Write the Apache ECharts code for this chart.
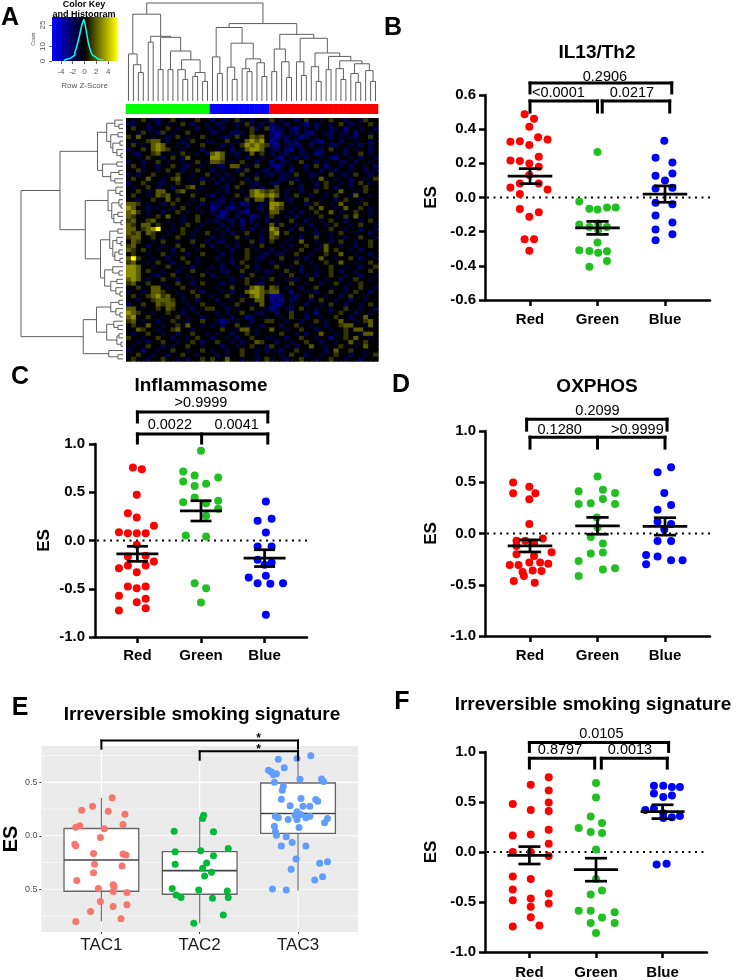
<!DOCTYPE html>
<html><head><meta charset="utf-8">
<script src="https://cdn.jsdelivr.net/npm/echarts@6/dist/echarts.min.js"></script>
<style>html,body{margin:0;padding:0;background:#fff}#c{width:739px;height:980px}</style>
</head><body><div id="c"></div>
<script>
// ================= DATA =================
// ---- Panel A : heatmap ----
const colGroupSizes = [17, 12, 22];            // green, blue, red clusters
const levelChars = {'B':-2.2,'b':-1.4,'-':-0.8,'.':0,'+':0.8,'y':1.4,'Y':2.2,'#':4};
const heatRows = [
".-.+.-b..+.-..+..|b.-b.+-.b..-|+.-..b.+..-.+..b..-+..",
"-b..-.b.-..+.b..-|.b-..b.+-.b.|b-.b..-B.b..-.+.b-..+.",
".+..b-..+.-...b.-|-.b..-..+b.+|Bb-.bB.-.b..b-.B..-..b",
"..-+..b+.-..+....|b-..bb-.+...|bBb.-b.bB..-b.-b.B..-.",
"+.y..-..b.+.-..+.|..-b.+..y+y.|bB-b.-Bb.-..b.-.-b..+.",
".-..+yy.-..b.+..-|-..+.-.yYyY.|Bb.b-b..-bB.-.b..-..b.",
".+.-.yYy..-.b..+.|..b.-.+YyYy+|bB.-bb-.b.-.bb..-.b.-.",
"b..+.yYy+..-...b.|.-..b.-yYYy.|-b.bB.b..-b.+..b.-..b.",
".-b..+y..-.+..-.b|yYy.-b..y.+.|b.-b..b-.Bb..-.b..+.-.",
"..-.+..b.+.-y....|YYy..-.b..-.|.bB.-b.b..-.bB..-.b..-",
"-..b..+.-..-..+.-|yy+.-.+..b..|B.b-..+..b.-..b-.b..-.",
".+.-..b..+.-b..-.|.-b.yy.-.+..|bBb.-..b.+.B..-.b..-.b",
"..+-..-.+..b..+..|b.-..b-+..-b|.b-.B..-..b.-b..-..b.-.",
"-.b..+..-.+..-..+|.-.b..+..b.-|b.-b.+..b-..+.-b.+..b.",
".+..y..-.+y.-..b.|-.b.-..b.+..|..b-.b..-.y..-..b..-.+",
"b..+..-b..+..-.+.|.b.-..+.-b..|-b..+.-..b.+..-.b.+.-.",
".-..+.-..b..+y.-.|..-b.+..-.b.|.+..-.b..-.+.b..-..+..",
"..+.-.yy..+y..-..|.-.b..-.yYy+|y+.-..b..+.-..y..-.+..",
".+..-.y+y.-..+..-|b.-..+.-yYYy|Yy.-.+..b..-.+..-y..-.",
"..-..+..y.+..-.+.|.-b.-..+.yy.|y..-b..+..-..b.+..-...",
"yy+.-..b.+..-..b.|bb-.b.Bb..b.|YYy.-..b.+..-.y..-.+..",
"Yy..b.-..-.+..-..|Bb.bB-.b.-b.|Yy+..-..+.y..-.y..+.-.",
"yY+.-..b..+.-..-.|b.Bb.-bB..-.|yy..-.b..+..y.-..+..-.",
"y+..-.+.y..-..+..|.bB-.b..Bb.-|+..-.b..-.+..-.+.y..-.",
"+y..+y..-..b..+.-|-b.-b.B.b..b|.-..+..b..-.+..b..-.+.",
"y+.yy.+..-..+..-.|..b.-.b..b..|y.+..-..b..-.+..-.+..-",
"yy.+yY#..-.+..-..|.-.b..-.b.-.|Yy..b.+..-..+..-..b..-",
"y+y.y+..-..+.-..+|..-.b..+..-.|yY.+..-..b..-.+..-..b.",
"+yy..+.-..+..-...|b.-..+.-..b.|y+..-.b..+..-..b..+..-",
".y+..-.+..-..+..b|.-b..-..+.b.|+..-..y..-..b.+..-..+.",
"+y..b..-..+..-.+.|b..-.b..-.+.|..-.b..+..-y..-..b..+.",
"y+.+..-..b.+..-..|.-..b..+.-..|b..-..+..-.y.+..-.b...",
".+..-..+.-..b..+.|..b.-..+..-b|.-b..+..-..+..y..-..b.",
"y#+..-..b..+..-..|.b..-..+.-b.|..+..-.b..y..-..+.b..-",
"+y..-.+..b..+.-..|..-.b.+..-..|b.-..+..-..+..y..-..+.",
"YYy..-..+..-.b...|-.b..-.+.b..|.+..-.b..-..+..-..b..+",
"YYy.+..-..b..+..-|..-b..+..-.b|-..+..b..-..+.b..-..+.",
"YYy..-b..+..-..+.|b..-..b.+..-|..-.+..-.b..+..-..b..-",
"yYy.-..+..b..-...|.-..b..+..-.|+..-.b..+..-..b..+..-.",
"+y..+..-..+..b.+.|..b.-..+.-b.|.-..+..-..b..+..-.+...",
"..+..yy.-..+..-..|.-..+..-yYy.|y+.-..b..+..-..b..+..-",
"-..b.yy+..-..+.b.|..-.b..yYYy+|yy..B..-.b..+..-.+..b.",
".+..+yY+y..-..+..|-..+..-.yYy.|BBb.-b..+..-..b.+..-..",
"..-..+yyy+.-..b..|.b..-.+..yy.|BbB.b-..b.+..-..b..-..",
"b..+..y+yy..-..+.|..-..+..-.y.|bBb.-..b..-.+..b..-.+.",
"yy.-..+.y+.-.b..+|+..b.-..+..-|Bb.-b.+..-..b..+..-..b",
"Yy+..-..+..b..-..|.b.-..+..-b.|.b..+..-.B..-.+..b..-.",
"yY..+..-..+.-..b.|..-.b..Bb..-|..-.+..b..-..+..b..y..",
"+y.-..b..+..-..+.|.-Bb.-..b..+|+..-..b..+.-..y..-.+y.",
".+..y..-..+.y..-.|-.b..+.-..b.|..b..+..-..b..+yy..-y.",
"..y+..-..+y..-...|..+..-yy.-..|y..-..+..b..-..+.yy...",
".b..+..-..b..+..-|.-..b..+.-..|..+..-.b..y..-.+..-yy.",
"+..-..+..b..-.+..|b..-.b..+..-|-..b..+..-..B..+.y..-.",
"..-.b..+..-..+.b.|.+..-.b..y+.|.b..-..+..b..-..y..+..",
".-..+..b.-..+..-.|..b..-..+..-|+..-.b..y..-..+..-.y..",
"b..B..-..+..-..+.|-..b..+..-.b|.-b..+..-..b.y..+..-..",
"..+..-..b..+..-..|.b.-..+..-..|..-.+..b..-..+..b..-.+",
".+..-..+..-.b..+.|+..y..-..b.+|-..b..+..-..+..-..b..."
];
// column dendrogram (Newick-like, ':h' = merge height, leaves = letters)
const colTreeGreen = "((a,(a,(a,a):0.29):0.37):0.48,((a,a):0.6,((a,a):0.32,((a,a):0.32,((a,(a,a):0.22):0.32,((a,a):0.25,(a,a):0.2):0.29):0.42):0.51):0.65):0.66):0.886";
const colTreeBlue  = "((a,(a,a):0.28):0.45,((a,(a,a):0.22):0.345,((a,(a,a):0.3):0.33,(a,(a,a):0.25):0.39):0.43):0.59):0.75";
const colTreeRed   = "(((a,a):0.3,(a,(a,a):0.24):0.4):0.53,((a,(a,a):0.26):0.4,((a,(a,a):0.2):0.35,((a,a):0.32,((a,(a,a):0.22):0.33,((a,(a,a):0.19):0.28,(a,(a,a):0.2):0.31):0.38):0.41):0.455):0.49):0.64):0.68";
const colTree = "(" + colTreeGreen + ",(" + colTreeBlue + "," + colTreeRed + "):0.79):1.0";
// row dendrogram
const rA1 = "(((x,(x,x):0.04):0.08,((x,x):0.05,((x,x):0.03,(x,(x,x):0.02):0.06):0.1):0.12):0.16,((x,x):0.06,((x,x):0.04,(x,x):0.08):0.12):0.2):0.25";
const rA2 = "((x,(x,x):0.03):0.07,((x,(x,x):0.02):0.04,((x,x):0.05,(x,x):0.02):0.09):0.11):0.147";
const rA3 = "(((x,x):0.05,((x,(x,x):0.02):0.06,((x,x):0.04,(x,x):0.03):0.08):0.1):0.13,((x,(x,x):0.04):0.1,((x,x):0.06,(x,(x,x):0.03):0.07):0.12):0.18):0.22";
const rB  = "(((((x,x):0.04,(x,(x,x):0.03):0.07):0.12,((x,(x,x):0.05):0.09,((x,x):0.04,(x,x):0.02):0.06):0.16):0.26,(x,(x,x):0.05):0.14):0.39)";
const rowTree = "((" + rA1 + ",(" + rA2 + "," + rA3 + "):0.37):0.618," + rB.slice(1, -1) + "):1.0";
// colour key histogram
const keyHistZ =     [-3.5,-3.25,-3,-2.75,-2.5,-2.25,-2,-1.75,-1.5,-1.25,-1,-0.75,-0.5,-0.25,0,0.25,0.5,0.75,1,1.25,1.5,1.75,2,2.25,2.5,2.75,3,3.25];
const keyHistCount = [0.5,1,1,1.5,2,2.5,3,4,6,9,13,17,22,26,29,25,19,13,9,6,4,3,2,1.5,1,1,0.5,0.5];
const keyZTicks = [-4,-2,0,2,4];
const keyCountTicks = [0,10,25];

// ---- Panels B,C,D,F : [x-jitter, ES] per group ----
const cats = ['Red','Green','Blue'];
const bRed = [[-0.08,0.488],[0.06,0.461],[-0.01,0.414],[-0.29,0.326],[-0.15,0.330],[0.12,0.352],[0.26,0.340],[-0.01,0.307],[0.13,0.238],[-0.29,0.217],[-0.15,0.213],[-0.01,0.199],[0.13,0.180],[-0.01,0.131],[-0.29,0.059],[-0.15,0.082],[0.13,0.082],[0.26,0.047],[-0.15,0.020],[-0.15,-0.068],[0.13,-0.086],[-0.01,-0.113],[-0.08,-0.244],[0.06,-0.244],[-0.01,-0.312]];
const bGreen = [[0,0.266],[-0.27,-0.023],[-0.12,-0.066],[0,-0.070],[0.14,-0.059],[0.27,-0.059],[-0.27,-0.158],[-0.12,-0.172],[0.01,-0.152],[0.14,-0.172],[0,-0.264],[-0.27,-0.309],[-0.12,-0.313],[0.01,-0.324],[0.14,-0.314],[0.14,-0.371],[-0.12,-0.406],[0.01,-0.19]];
const bBlue = [[-0.01,0.332],[-0.14,0.232],[0.11,0.205],[-0.14,0.127],[0.11,0.141],[0,0.10],[-0.14,0.053],[0.11,0.057],[-0.14,-0.031],[0.11,-0.039],[-0.14,-0.105],[0.11,-0.146],[-0.14,-0.187],[0.11,-0.215],[-0.14,-0.25]];
const bMean = [0.125,-0.178,0.02], bSem = [0.044,0.038,0.048];
const bP = ['0.2906','<0.0001','0.0217'];

const cRed = [[-0.07,0.756],[0.07,0.739],[-0.01,0.473],[-0.15,0.283],[-0.01,0.238],[0.26,0.152],[-0.29,0.086],[-0.15,0.076],[-0.01,0.076],[0.13,0.076],[-0.01,-0.045],[-0.15,-0.166],[0.13,-0.159],[-0.29,-0.287],[-0.15,-0.259],[-0.01,-0.328],[0.13,-0.259],[0.26,-0.218],[-0.15,-0.477],[-0.01,-0.494],[0.13,-0.477],[-0.29,-0.573],[-0.01,-0.639],[0.13,-0.604],[-0.29,-0.725],[0.13,-0.701]];
const cGreen = [[0,0.929],[-0.28,0.715],[-0.1,0.674],[-0.28,0.611],[-0.1,0.566],[0.08,0.587],[0.27,0.653],[-0.28,0.397],[-0.1,0.446],[0.08,0.387],[0.27,0.411],[0.27,0.328],[0.08,0.256],[-0.24,0.052],[0.08,0.041],[-0.1,-0.442],[0.08,-0.494],[0,-0.642]];
const cBlue = [[0.02,0.404],[-0.11,0.204],[0.11,0.225],[0.02,0.083],[-0.11,-0.062],[0.11,-0.062],[-0.11,-0.2],[0.11,-0.228],[0,-0.25],[-0.25,-0.383],[0.02,-0.366],[-0.11,-0.442],[0.09,-0.449],[0.29,-0.442],[0.02,-0.77]];
const cMean = [-0.138,0.307,-0.183], cSem = [0.078,0.105,0.087];
const cP = ['>0.9999','0.0022','0.0041'];

const dRed = [[-0.25,0.497],[-0.01,0.457],[-0.25,0.392],[0.08,0.392],[-0.01,0.333],[-0.01,0.092],[-0.2,-0.07],[-0.07,-0.07],[0.19,-0.049],[0.06,-0.09],[-0.2,-0.121],[0.32,-0.183],[-0.2,-0.203],[0.06,-0.219],[-0.3,-0.307],[-0.17,-0.307],[-0.01,-0.284],[0.15,-0.284],[0.27,-0.294],[-0.11,-0.376],[0.04,-0.36],[0.17,-0.366],[-0.24,-0.464],[-0.09,-0.415],[0.07,-0.48]];
const dGreen = [[0,0.556],[-0.28,0.412],[0.08,0.428],[0.26,0.395],[-0.1,0.294],[0.08,0.337],[-0.28,0.288],[0.26,0.288],[-0.01,0.157],[-0.1,-0.033],[0.08,-0.098],[-0.1,-0.196],[0.08,-0.186],[-0.28,-0.268],[0.08,-0.35],[0.26,-0.34],[-0.28,-0.415],[0,0.06]];
const dBlue = [[-0.11,0.598],[0.09,0.647],[-0.01,0.395],[-0.11,0.232],[0.09,0.278],[-0.11,0.114],[0.09,0.092],[-0.01,0.042],[-0.11,-0.072],[0.09,-0.072],[-0.28,-0.209],[-0.11,-0.225],[0.09,-0.261],[0.26,-0.261],[-0.28,-0.3]];
const dMean = [-0.121,0.075,0.069], dSem = [0.059,0.082,0.085];
const dP = ['0.2099','0.1280','>0.9999'];

const fRed = [[0.29,0.748],[0.02,0.672],[0.29,0.616],[-0.25,0.479],[0.29,0.495],[0.02,0.42],[0.29,0.41],[0.29,0.223],[-0.25,0.164],[0.02,0.174],[0.29,0.082],[-0.25,0.0],[0.02,0.0],[0.29,-0.039],[-0.25,-0.246],[0.02,-0.269],[-0.25,-0.374],[0.29,-0.416],[0.02,-0.466],[-0.25,-0.482],[0.29,-0.515],[0.02,-0.548],[0.02,-0.652],[-0.25,-0.744],[0.15,-0.734]];
const fGreen = [[0,0.689],[0,0.544],[-0.08,0.354],[0.09,0.289],[-0.26,0.239],[-0.08,0.2],[0.09,0.19],[0,0.026],[0,-0.269],[0.09,-0.384],[-0.08,-0.426],[-0.26,-0.587],[-0.08,-0.587],[0.28,-0.603],[0.09,-0.656],[-0.08,-0.711],[0.28,-0.711],[0,-0.81]];
const fBlue = [[-0.13,0.662],[0.01,0.662],[0.14,0.649],[0.26,0.649],[-0.13,0.584],[0.01,0.551],[0.14,0.564],[-0.26,0.420],[-0.13,0.436],[0.01,0.387],[0.14,0.348],[0.26,0.361],[0.01,0.34],[-0.09,-0.125],[0.06,-0.118]];
const fMean = [-0.033,-0.177,0.403], fSem = [0.087,0.115,0.069];
const fP = ['0.0105','0.8797','0.0013'];

// ---- Panel E (ggplot boxplot + jitter) ----
const eCats = ['TAC1','TAC2','TAC3'];
const eTAC1 = [[0.11,0.357],[-0.09,0.276],[-0.2,0.239],[0.07,0.23],[0.24,0.202],[-0.22,0.093],[-0.26,0.081],[0.22,0.106],[0.03,0.065],[-0.01,-0.016],[-0.27,-0.078],[-0.26,-0.093],[-0.08,-0.165],[0.22,-0.171],[0.25,-0.18],[-0.07,-0.267],[0.21,-0.283],[-0.08,-0.345],[-0.25,-0.419],[-0.03,-0.494],[0.12,-0.457],[0.13,-0.475],[0.12,-0.522],[0.26,-0.531],[-0.01,-0.615],[0.12,-0.661],[0.26,-0.646],[-0.11,-0.708],[-0.26,-0.801],[0.2,-0.776]];
const eTAC2 = [[0.04,0.193],[0.03,0.161],[-0.26,0.043],[0.14,0.037],[-0.25,-0.149],[0.01,-0.14],[0.29,-0.118],[0.14,-0.186],[-0.25,-0.267],[0.07,-0.255],[0.03,-0.304],[0.12,-0.342],[0.05,-0.376],[-0.28,-0.494],[-0.01,-0.506],[0.28,-0.516],[-0.24,-0.553],[-0.19,-0.578],[0.13,-0.584],[0.29,-0.578],[0.24,-0.742],[-0.06,-0.817]];
const eTAC3 = [[-0.2,0.717],[-0.01,0.724],[0.13,0.748],[-0.14,0.637],[-0.3,0.612],[-0.27,0.596],[-0.22,0.58],[-0.25,0.571],[-0.24,0.5],[0.02,0.528],[0.24,0.531],[0.26,0.509],[-0.15,0.463],[-0.16,0.425],[-0.17,0.342],[0.03,0.348],[0.18,0.339],[0.2,0.323],[-0.08,0.28],[0.05,0.276],[0.12,0.276],[-0.01,0.224],[0.03,0.199],[-0.03,0.193],[-0.23,0.183],[-0.2,0.168],[-0.1,0.152],[-0.01,0.152],[0.08,0.168],[0.12,0.183],[0.3,0.161],[0.27,0.121],[-0.24,0.09],[0.01,0.078],[-0.23,0.037],[-0.22,0.006],[-0.12,-0.009],[-0.17,-0.096],[-0.06,-0.062],[0.08,-0.096],[-0.02,-0.217],[0.22,-0.258],[0.3,-0.242],[-0.07,-0.314],[0.17,-0.413],[0.25,-0.382],[-0.26,-0.497],[-0.12,-0.506]];
const eBox = [[-0.80,-0.519,-0.227,0.068,0.357],[-0.817,-0.547,-0.326,-0.149,0.177],[-0.512,0.022,0.208,0.494,0.742]]; // min,Q1,med,Q3,max
const eTickVals = [-0.5, 0, 0.5];
const eTickLabels = ['0.5', '0.0', '0.5'];
const eMinorY = [-0.75, -0.25, 0.25, 0.75];
const eSig = ['*', '*'];

// ================= STYLE / LAYOUT =================
const FONT = "'Liberation Sans', Arial, Helvetica, sans-serif";
const barColors = ['#00ff00', '#0000ff', '#ff0000'];
const dotColors = ['#ff0000', '#20c020', '#0000ff'];
const eColors = ['#f8766d', '#00ba38', '#619cff'];

function parseTree(str) {
  const s = str.replace(/\s+/g, ''); let i = 0;
  function num() { const j = i; while (i < s.length && /[0-9.]/.test(s[i])) i++; return parseFloat(s.slice(j, i)); }
  function node() {
    if (s[i] === '(') {
      i++; const kids = [node()];
      while (s[i] === ',') { i++; kids.push(node()); }
      i++; let h = 0;
      if (s[i] === ':') { i++; h = num(); }
      return {kids, h};
    }
    while (i < s.length && /[a-z]/.test(s[i])) i++;
    if (s[i] === ':') { i++; num(); }
    return {kids: null, h: 0};
  }
  return node();
}
function treeSegments(root) {
  let leaf = 0; const segs = [];
  (function walk(n) {
    if (!n.kids) { n.pos = leaf++; return; }
    n.kids.forEach(walk);
    const ps = n.kids.map(k => k.pos);
    const lo = Math.min(...ps), hi = Math.max(...ps);
    n.pos = (lo + hi) / 2;
    n.kids.forEach(k => segs.push([k.pos, k.h, k.pos, n.h]));
    segs.push([lo, n.h, hi, n.h]);
  })(root);
  return {segs, leaves: leaf};
}
const fmt1 = v => (Math.abs(v) < 1e-9 ? 0 : v).toFixed(1);
function txt(text, x, y, font, fill) {
  return {type: 'text', x, y, silent: true, style: {text, font, fill: fill || '#000', textAlign: 'center', textVerticalAlign: 'middle', align: 'center', verticalAlign: 'middle'}};
}
function lineEl(a, b, stroke, lw, extra) {
  return {type: 'line', shape: {x1: a[0], y1: a[1], x2: b[0], y2: b[1]}, style: Object.assign({stroke, lineWidth: lw}, extra || {})};
}
const segRender = (params, api) => lineEl(api.coord([api.value(0), api.value(1)]), api.coord([api.value(2), api.value(3)]), '#5f5f5f', 1);

const grids = [], xAxes = [], yAxes = [], series = [], graphics = [];
const hidden = {show: false};

// ---- heatmap (cells coloured through visualMap) ----
const nCols = colGroupSizes.reduce((a, b) => a + b, 0);
const colGroup = [];
colGroupSizes.forEach((n, g) => { for (let k = 0; k < n; k++) colGroup.push(g); });
const cells = [];
heatRows.forEach((row, r) => {
  const segs = row.split('|');
  const chars = segs.map((s, g) => (s + '.'.repeat(colGroupSizes[g])).slice(0, colGroupSizes[g])).join('');
  for (let c = 0; c < nCols; c++) cells.push([c, r, levelChars[chars[c]] ?? 0]);
});
const colIdx = Array.from({length: nCols}, (_, i) => i);
const rowIdx = heatRows.map((_, i) => i);

grids.push({left: 126, top: 118, width: 252, height: 243});
xAxes.push({gridIndex: 0, type: 'category', data: colIdx, show: false});
yAxes.push({gridIndex: 0, type: 'category', data: rowIdx, inverse: true, show: false});
series.push({type: 'custom', xAxisIndex: 0, yAxisIndex: 0, data: cells, silent: true,
  encode: {x: 0, y: 1},
  renderItem: (params, api) => {
    const c = api.coord([api.value(0), api.value(1)]); const s = api.size([1, 1]);
    return {type: 'rect', shape: {x: c[0] - s[0] / 2, y: c[1] - s[1] / 2, width: s[0] + 0.7, height: s[1] + 0.7},
      style: {fill: api.visual('color')}};
  }});

// ---- column dendrogram ----
const colT = treeSegments(parseTree(colTree));
grids.push({left: 126, top: 3, width: 252, height: 98});
xAxes.push({gridIndex: 1, type: 'value', min: -0.5, max: colT.leaves - 0.5, show: false});
yAxes.push({gridIndex: 1, type: 'value', min: 0, max: 1, show: false});
series.push({type: 'custom', xAxisIndex: 1, yAxisIndex: 1, silent: true, data: colT.segs, renderItem: segRender});

// ---- row dendrogram ----
const rowT = treeSegments(parseTree(rowTree));
grids.push({left: 21, top: 118, width: 102, height: 243});
xAxes.push({gridIndex: 2, type: 'value', min: 0, max: 1, inverse: true, show: false});
yAxes.push({gridIndex: 2, type: 'value', min: -0.5, max: rowT.leaves - 0.5, inverse: true, show: false});
series.push({type: 'custom', xAxisIndex: 2, yAxisIndex: 2, silent: true, data: rowT.segs.map(s => [s[1], s[0], s[3], s[2]]), renderItem: segRender});

// ---- column colour bar ----
grids.push({left: 126, top: 104, width: 252, height: 10});
xAxes.push({gridIndex: 3, type: 'category', data: colIdx, show: false});
yAxes.push({gridIndex: 3, type: 'category', data: ['g'], show: false});
series.push({type: 'custom', xAxisIndex: 3, yAxisIndex: 3, silent: true, data: colGroup.map((g, i) => [i, 0, g]),
  renderItem: (params, api) => { const c = api.coord([api.value(0), 0]); const s = api.size([1, 1]);
    return {type: 'rect', shape: {x: c[0] - s[0] / 2 - 0.3, y: c[1] - s[1] / 2, width: s[0] + 0.6, height: s[1]}, style: {fill: barColors[api.value(2)]}}; }});

// ---- colour key ----
grids.push({left: 52, top: 17, width: 65, height: 44});
const keyLab = {color: '#555', fontSize: 8, fontFamily: FONT};
xAxes.push({gridIndex: 4, type: 'value', min: -5.5, max: 5.5, axisLine: {show: false, onZero: false},
  axisTick: {show: true, customValues: keyZTicks, length: 3, lineStyle: {color: '#666'}},
  axisLabel: Object.assign({customValues: keyZTicks, margin: 7, formatter: v => String(v)}, keyLab), splitLine: hidden,
  name: 'Row Z-Score', nameLocation: 'middle', nameGap: 21, nameTextStyle: keyLab});
yAxes.push({gridIndex: 4, type: 'value', min: 0, max: 30.5, axisLine: {show: false, onZero: false},
  axisTick: {show: true, customValues: keyCountTicks, length: 3, lineStyle: {color: '#666'}},
  axisLabel: Object.assign({customValues: keyCountTicks, margin: 5, rotate: 90, formatter: v => String(v)}, keyLab), splitLine: hidden,
  name: 'Count', nameLocation: 'middle', nameGap: 16, nameRotate: 90, nameTextStyle: {color: '#555', fontSize: 5, fontFamily: FONT}});
series.push({type: 'custom', xAxisIndex: 4, yAxisIndex: 4, silent: true, z: 1, data: [[0, 0]],
  renderItem: (params) => { const cs = params.coordSys;
    return {type: 'rect', shape: {x: cs.x, y: cs.y, width: cs.width, height: cs.height},
      style: {fill: new echarts.graphic.LinearGradient(0, 0, 1, 0, [{offset: 0, color: '#0000ff'}, {offset: 0.5, color: '#000000'}, {offset: 1, color: '#ffff00'}])}}; }});
series.push({type: 'line', xAxisIndex: 4, yAxisIndex: 4, z: 3, silent: true, step: 'middle', symbol: 'none',
  lineStyle: {color: '#00ffff', width: 1.5}, data: keyHistZ.map((z, i) => [z, keyHistCount[i]])});
graphics.push(txt('Color Key', 84, 5, 'bold 9px ' + FONT));
graphics.push(txt('and Histogram', 84, 15, 'bold 9px ' + FONT));

// ---- GraphPad-style dot panels ----
function addGP(p) {
  const gi = grids.length;
  grids.push(p.grid);
  xAxes.push({gridIndex: gi, type: 'value', min: -2 / 3, max: 8 / 3,
    axisLine: {show: true, onZero: false, lineStyle: {color: '#000', width: 2.5}},
    axisTick: {show: true, customValues: [0, 1, 2], length: 6, lineStyle: {color: '#000', width: 2.5}},
    axisLabel: {show: true, customValues: [0, 1, 2], formatter: v => cats[Math.round(v)], color: '#000', fontFamily: FONT, fontSize: 15, fontWeight: 'bold', margin: p.catMargin},
    splitLine: hidden});
  const xi = xAxes.length - 1;
  yAxes.push({gridIndex: gi, type: 'value', min: p.yMin, max: p.yMax, interval: p.yInt,
    axisLine: {show: true, onZero: false, lineStyle: {color: '#000', width: 2.5}},
    axisTick: {show: true, length: 6, lineStyle: {color: '#000', width: 2.5}},
    axisLabel: {formatter: fmt1, color: '#000', fontFamily: FONT, fontSize: 15, fontWeight: 'bold', margin: p.tickMargin},
    splitLine: hidden, name: 'ES', nameLocation: 'middle', nameGap: p.esGap, nameRotate: 90,
    nameTextStyle: {color: '#000', fontFamily: FONT, fontSize: 17, fontWeight: 'bold'}});
  const yi = yAxes.length - 1;
  series.push({type: 'custom', xAxisIndex: xi, yAxisIndex: yi, z: 1, silent: true, data: [[0, 0]],
    renderItem: (params, api) => { const cs = params.coordSys; const y = api.coord([0, 0])[1];
      return lineEl([cs.x + 2, y], [cs.x + cs.width, y], '#000', 2, {lineDash: [2, 4.5]}); }});
  p.groups.forEach((g, k) => series.push({type: 'scatter', xAxisIndex: xi, yAxisIndex: yi, z: 3, silent: true,
    symbol: 'circle', symbolSize: 8, itemStyle: {color: dotColors[k], opacity: 1}, data: g.map(([o, v]) => [k + o, v])}));
  series.push({type: 'custom', xAxisIndex: xi, yAxisIndex: yi, z: 5, silent: true,
    data: p.mean.map((m, k) => [k, m, p.sem[k]]),
    renderItem: (params, api) => {
      const k = api.value(0), m = api.value(1), s = api.value(2);
      const st = {lineCap: 'butt'};
      return {type: 'group', children: [
        lineEl(api.coord([k - 0.33, m]), api.coord([k + 0.33, m]), '#000', 2.7, st),
        lineEl(api.coord([k - 0.165, m + s]), api.coord([k + 0.165, m + s]), '#000', 2.7, st),
        lineEl(api.coord([k - 0.165, m - s]), api.coord([k + 0.165, m - s]), '#000', 2.7, st),
        lineEl(api.coord([k, m - s]), api.coord([k, m + s]), '#000', 2.7, st)]};
    }});
  series.push({type: 'custom', xAxisIndex: xi, yAxisIndex: yi, z: 5, silent: true,
    data: p.brackets.map((b, i) => [b.xs[0], b.y, i]),
    renderItem: (params, api) => {
      const b = p.brackets[params.dataIndex];
      const lo = Math.min(...b.xs), hi = Math.max(...b.xs);
      const st = {lineCap: 'square'};
      const ch = [lineEl(api.coord([lo, b.y]), api.coord([hi, b.y]), '#000', 3, st)];
      b.xs.forEach(x => ch.push(lineEl(api.coord([x, b.y]), api.coord([x, b.d]), '#000', 3, st)));
      return {type: 'group', children: ch};
    }});
  series.push({type: 'custom', xAxisIndex: xi, yAxisIndex: yi, z: 6, silent: true,
    data: p.pLabels.map((t, i) => [p.labelPos[i][0], p.labelPos[i][1], i]),
    renderItem: (params, api) => { const c = api.coord([api.value(0), api.value(1)]);
      const t = txt(p.pLabels[params.dataIndex], c[0], c[1], '14.5px ' + FONT); delete t.silent; return t; }});
}

addGP({grid: {left: 485, top: 95, width: 225, height: 205}, yMin: -0.6, yMax: 0.6, yInt: 0.2,
  groups: [bRed, bGreen, bBlue], mean: bMean, sem: bSem, pLabels: bP, catMargin: 12, tickMargin: 9, esGap: 45,
  brackets: [{xs: [0, 2.1], y: 0.67, d: 0.612}, {xs: [0, 1.0], y: 0.565, d: 0.5}, {xs: [1.07, 2.07], y: 0.565, d: 0.5}],
  labelPos: [[1.11, 0.708], [0.42, 0.612], [1.51, 0.612]]});
addGP({grid: {left: 95, top: 444, width: 212, height: 193}, yMin: -1, yMax: 1, yInt: 0.5,
  groups: [cRed, cGreen, cBlue], mean: cMean, sem: cSem, pLabels: cP, catMargin: 11, tickMargin: 10, esGap: 42,
  brackets: [{xs: [0, 2.05], y: 1.332, d: 1.228}, {xs: [0, 1.01, 2.05], y: 1.104, d: 1.01}],
  labelPos: [[1.0, 1.43], [0.51, 1.2], [1.56, 1.2]]});
addGP({grid: {left: 485, top: 431, width: 225, height: 205}, yMin: -1, yMax: 1, yInt: 0.5,
  groups: [dRed, dGreen, dBlue], mean: dMean, sem: dSem, pLabels: dP, catMargin: 12, tickMargin: 9, esGap: 45,
  brackets: [{xs: [-0.05, 2.03], y: 1.115, d: 1.008}, {xs: [0, 1.0, 2.0], y: 0.94, d: 0.833}],
  labelPos: [[1.0, 1.2], [0.44, 1.01], [1.59, 1.01]]});
addGP({grid: {left: 485, top: 752, width: 222, height: 203}, yMin: -1, yMax: 1, yInt: 0.5,
  groups: [fRed, fGreen, fBlue], mean: fMean, sem: fSem, pLabels: fP, catMargin: 13, tickMargin: 9, esGap: 45,
  brackets: [{xs: [0, 2.09], y: 1.094, d: 1.006}, {xs: [0, 0.98], y: 0.937, d: 0.839}, {xs: [1.08, 2.07], y: 0.937, d: 0.839}],
  labelPos: [[1.08, 1.185], [0.46, 1.018], [1.51, 1.018]]});

// ---- Panel E (ggplot) ----
(function () {
  const gi = grids.length;
  grids.push({left: 36, top: 746, width: 322, height: 186, show: true, backgroundColor: '#ebebeb', borderWidth: 0});
  xAxes.push({gridIndex: gi, type: 'value', min: -0.61, max: 2.61, axisLine: {show: false, onZero: false},
    axisTick: {show: true, customValues: [0, 1, 2], length: 2, lineStyle: {color: '#333', width: 1}},
    axisLabel: {customValues: [0, 1, 2], formatter: v => eCats[Math.round(v)], color: '#1a1a1a', fontFamily: FONT, fontSize: 17, margin: 5},
    splitLine: hidden});
  const xi = xAxes.length - 1;
  yAxes.push({gridIndex: gi, type: 'value', min: -0.9, max: 0.84, axisLine: {show: false, onZero: false},
    axisTick: {show: true, customValues: eTickVals, length: 2, lineStyle: {color: '#333', width: 1}},
    axisLabel: {customValues: eTickVals, formatter: v => eTickLabels[eTickVals.findIndex(t => Math.abs(t - v) < 1e-6)],
      color: '#4d4d4d', fontFamily: FONT, fontSize: 9, margin: 4},
    splitLine: hidden, name: 'ES', nameLocation: 'middle', nameGap: 14, nameRotate: 90,
    nameTextStyle: {color: '#000', fontFamily: FONT, fontSize: 20, fontWeight: 'bold'}});
  const yi = yAxes.length - 1;
  const gridData = [].concat(eMinorY.map(v => [0, v, 0]), eTickVals.map(v => [0, v, 1]), [0, 1, 2].map(v => [v, 0, 2]));
  series.push({type: 'custom', xAxisIndex: xi, yAxisIndex: yi, z: 1, silent: true, data: gridData,
    renderItem: (params, api) => { const cs = params.coordSys; const kind = api.value(2);
      if (kind === 2) { const x = api.coord([api.value(0), 0])[0]; return lineEl([x, cs.y], [x, cs.y + cs.height], '#fff', 1.1); }
      const y = api.coord([0, api.value(1)])[1];
      return lineEl([cs.x, y], [cs.x + cs.width, y], '#fff', kind === 1 ? 1.1 : 0.55); }});
  series.push({type: 'custom', xAxisIndex: xi, yAxisIndex: yi, z: 2, silent: true, data: eBox.map((b, i) => [i, b[2]]),
    renderItem: (params, api) => { const i = params.dataIndex; const s = eBox[i]; const w = 0.38;
      const q1l = api.coord([i - w, s[1]]), q3r = api.coord([i + w, s[3]]);
      return {type: 'group', children: [
        lineEl(api.coord([i, s[3]]), api.coord([i, s[4]]), '#666', 1.1),
        lineEl(api.coord([i, s[1]]), api.coord([i, s[0]]), '#666', 1.1),
        {type: 'rect', shape: {x: q1l[0], y: q3r[1], width: q3r[0] - q1l[0], height: q1l[1] - q3r[1]}, style: {fill: '#fff', stroke: '#666', lineWidth: 1.3}},
        lineEl(api.coord([i - w, s[2]]), api.coord([i + w, s[2]]), '#444', 1.6)]}; }});
  [eTAC1, eTAC2, eTAC3].forEach((g, k) => series.push({type: 'scatter', xAxisIndex: xi, yAxisIndex: yi, z: 3, silent: true,
    symbol: 'circle', symbolSize: 7, itemStyle: {color: eColors[k], opacity: 1}, data: g.map(([o, v]) => [k + o, v])}));
  const eBr = [{xs: [0, 2], y: 0.892, d: 0.815, star: [1.6, 0.925]}, {xs: [1, 2], y: 0.792, d: 0.712, star: [1.6, 0.825]}];
  series.push({type: 'custom', xAxisIndex: xi, yAxisIndex: yi, z: 5, silent: true, data: eBr.map((b, i) => [b.xs[0], b.y, i]),
    renderItem: (params, api) => { const b = eBr[params.dataIndex];
      const ch = [lineEl(api.coord([b.xs[0], b.y]), api.coord([b.xs[1], b.y]), '#000', 2, {lineCap: 'square'})];
      b.xs.forEach(x => ch.push(lineEl(api.coord([x, b.y]), api.coord([x, b.d]), '#000', 2, {lineCap: 'square'})));
      const sp = api.coord(b.star);
      ch.push(txt(eSig[params.dataIndex], sp[0], sp[1] + 2, 'bold 12px ' + FONT));
      return {type: 'group', children: ch}; }});
})();

// ---- panel letters and titles ----
[['A', 10, 18], ['B', 393, 28], ['C', 20, 377], ['D', 401, 385], ['E', 20, 708], ['F', 402, 702]]
  .forEach(([t, x, y]) => graphics.push(txt(t, x, y, 'bold 25px ' + FONT)));
[['IL13/Th2', 597, 53], ['Inflammasome', 201, 386], ['OXPHOS', 597, 387],
 ['Irreversible smoking signature', 202, 715], ['Irreversible smoking signature', 593, 705]]
  .forEach(([t, x, y]) => graphics.push(txt(t, x, y, 'bold 19px ' + FONT)));

const chart = echarts.init(document.getElementById('c'), null, {renderer: 'canvas'});
chart.setOption({
  animation: false,
  backgroundColor: '#fff',
  textStyle: {fontFamily: FONT},
  grid: grids, xAxis: xAxes, yAxis: yAxes,
  visualMap: [{type: 'continuous', show: false, seriesIndex: 0, dimension: 2, min: -4, max: 4,
    inRange: {color: ['#0000ff', '#000000', '#ffff00']}}],
  series: series,
  graphic: {elements: graphics}
});
</script></body></html>
